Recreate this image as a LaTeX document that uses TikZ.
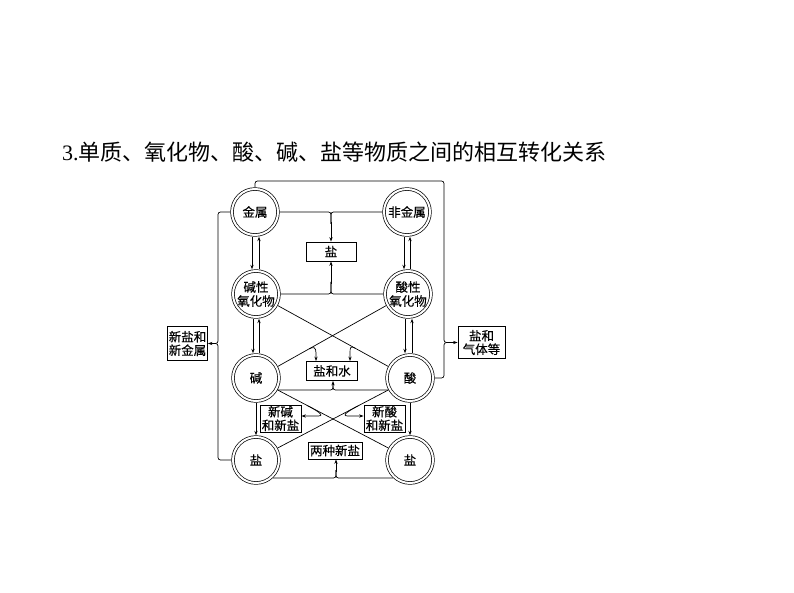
\documentclass[tikz,border=0pt]{standalone}
\usepackage{fontspec}
\setmainfont{Liberation Serif}
\newfontfamily\cjk{Noto Sans CJK SC}
\newfontfamily\cjkb[FakeBold=0.3]{Noto Sans CJK SC}
\usetikzlibrary{arrows.meta}
\begin{document}
\begin{tikzpicture}[x=1pt,y=-1pt,
  dc/.style={circle, draw, double, double distance=2pt, line width=0.7pt,
    minimum size=46pt, inner sep=0pt, outer sep=1.7pt,
    font=\cjkb\fontsize{12.5}{14}\selectfont, align=center},
  bx/.style={draw, line width=0.8pt, inner sep=0pt,
    font=\cjkb\fontsize{12.5}{13.5}\selectfont, align=center},
  ln/.style={line width=0.7pt},
  arr/.style={ln, -{Stealth[length=4.5pt,width=3.2pt]}},
  rc/.style={ln, rounded corners=2.5pt}]
\useasboundingbox (0,0) rectangle (794,593);

% title
\node[anchor=west, inner sep=0pt] (title) at (62,152)
  {\fontsize{22}{26}\selectfont 3.{\cjk 单质、氧化物、酸、碱、盐等物质之间的相互转化关系}};

% circles
\node[dc] (js)   at (255,212) {金属};
\node[dc] (fjs)  at (407,212) {非金属};
\node[dc] (jx)   at (256,294) {碱性\\氧化物};
\node[dc] (sx)   at (408,294) {酸性\\氧化物};
\node[dc] (jian) at (256,378) {碱};
\node[dc] (suan) at (410,378) {酸};
\node[dc] (yl)   at (256,460) {盐};
\node[dc] (yr)   at (410,460) {盐};

% boxes
\node[bx, minimum width=50pt, minimum height=19pt] (yan) at (331,251.5) {盐};
\node[bx, minimum width=51pt, minimum height=19pt] (yhs) at (332,371) {盐和水};
\node[bx, minimum width=41pt, minimum height=27pt] (xj)  at (280.5,418.5) {新碱\\和新盐};
\node[bx, minimum width=41pt, minimum height=27pt] (xs)  at (384.5,418.5) {新酸\\和新盐};
\node[bx, minimum width=54pt, minimum height=17pt] (lz)  at (335,450.5) {两种新盐};
\node[bx, minimum width=40pt, minimum height=34pt] (xyj) at (187.5,343.5) {新盐和\\新金属};
\node[bx, minimum width=47pt, minimum height=32pt] (yq)  at (481.5,342.5) {盐和\\气体等};

% vertical double arrows
\draw[arr] ([xshift=-3pt]js.south) -- ([xshift=-3pt]js.south |- jx.north);
\draw[arr] ([xshift=3pt]jx.north) -- ([xshift=3pt]jx.north |- js.south);
\draw[arr] ([xshift=-3pt]jx.south) -- ([xshift=-3pt]jx.south |- jian.north);
\draw[arr] ([xshift=3pt]jian.north) -- ([xshift=3pt]jian.north |- jx.south);
\draw[arr] ([xshift=-3pt]fjs.south) -- ([xshift=-3pt]fjs.south |- sx.north);
\draw[arr] ([xshift=2pt]sx.north) -- ([xshift=2pt]sx.north |- fjs.south);
\draw[arr] ([xshift=-3pt]sx.south) -- ([xshift=-3pt]sx.south |- suan.north);
\draw[arr] ([xshift=2pt]suan.north) -- ([xshift=2pt]suan.north |- sx.south);
\draw[arr] (jian.south) -- (yl.north);
\draw[arr] (suan.south) -- (yr.north);

% left loop to 新盐和新金属
\draw[rc] (js.west) -- (218,212) -- (218,343.5) -- (212,343.5);
\draw[rc] (yl.west) -- (218,460) -- (218,343.5) -- (212,343.5);
\draw[arr] (214,343.5) -- (xyj.east);

% top-right loop to 盐和气体等
\draw[rc] (js.north) -- (255,181) -- (444,181) -- (444,342.5) -- (450,342.5);
\draw[rc] (suan.east) -- (444,378) -- (444,342.5) -- (450,342.5);
\draw[arr] (446,342.5) -- (yq.west);

% to 盐 box
\draw[rc] (js.east) -- (331,212) -- (331,224);
\draw[rc] (fjs.west) -- (331,212) -- (331,224);
\draw[arr] (331,222) -- (yan.north);
\draw[rc] (jx.east) -- (331,294) -- (331,282);
\draw[rc] (sx.west) -- (331,294) -- (331,282);
\draw[arr] (331,284) -- (yan.south);

% crossing lines (upper)
\draw[ln] (jx.-28) -- coordinate[pos=0.699] (b1) (suan.152);
\draw[ln] (sx.208) -- coordinate[pos=0.712] (b2) (jian.28);
\draw[arr] (b1) .. controls +(-4.4,-2.4) and (350,347) .. (350,353) -- (yhs.north -| 350,0);
\draw[arr] (b2) .. controls +(4.4,-2.4) and (316,347) .. (316,353) -- (yhs.north -| 316,0);

% 碱 -- 酸 to 盐和水
\draw[rc] (jian.-29) -- (333,390) -- (333,383);
\draw[rc] (suan.209) -- (333,390) -- (333,383);
\draw[arr] (333,385) -- (yhs.south -| 333,0);

% crossing lines (lower)
\draw[ln] (jian.-29) -- coordinate[pos=0.272] (b3) (yr.151);
\draw[ln] (suan.209) -- coordinate[pos=0.274] (b4) (yl.29);
\draw[arr] (b3) .. controls +(8,4.2) and (326,416) .. (318,416) -- (xj.east |- 0,416);
\draw[arr] (b4) .. controls +(-8,4.2) and (340,416) .. (348,416) -- (xs.west |- 0,416);

% bottom to 两种新盐
\draw[rc] (yl.-47) -- (336,478) -- (336,470);
\draw[rc] (yr.227) -- (336,478) -- (336,470);
\draw[arr] (336,472) -- (lz.south -| 336,0);
\end{tikzpicture}
\end{document}
